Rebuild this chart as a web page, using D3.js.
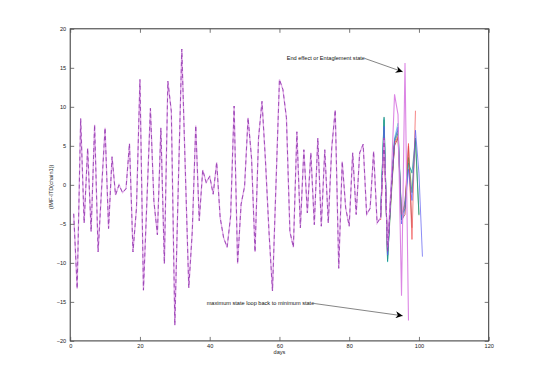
<!DOCTYPE html>
<html>
<head>
<meta charset="utf-8">
<script src="https://cdn.jsdelivr.net/npm/d3@7"></script>
<style>
  body { margin: 0; background: #fff; }
  text { font-family: "Liberation Sans", Arial, sans-serif; }
</style>
</head>
<body>
<div id="chart"></div>
<script>
// shared part of every series, days 1..89
var baseVals = [-3.7, -13.3, 8.5, -4.9, 4.7, -6.0, 7.7, -8.6, -0.5, 7.3,
  -5.6, 3.6, -1.3, 0.0, -1.0, -0.5, 5.3, -8.6, -3.0, 13.5,
  -13.5, -2.0, 9.8, -2.1, -6.4, 7.3, -10.1, 13.3, 9.4, -18.0,
  0.0, 17.4, 2.0, -13.2, -6.0, 7.6, -4.6, 1.9, 0.3, 1.1,
  -1.2, 2.9, -4.2, -6.8, -8.0, -4.0, 10.1, -10.1, -2.5, -0.2,
  8.6, 3.4, -8.6, 6.0, 10.7, 3.0, -6.0, -13.6, 0.0, 13.5,
  12.2, 8.6, -6.0, -8.0, 6.8, -5.5, 4.5, -3.6, 4.1, -5.1,
  6.0, -5.3, 4.5, -4.9, 4.8, 9.6, -10.7, 3.0, -3.0, -5.3,
  4.1, -3.8, 4.1, 5.2, -3.8, -3.0, 4.3, -4.9, -4.2];

// tails from day 89 on, where the runs split apart
var tailStart = 89;
var tealTail    = [-4.2, 8.7, -9.8, -1.0, 5.8, 7.0, -4.5, -2.0, 2.8, 1.5, 6.0, -3.8];
var greenTail   = [-4.2, 8.3, -9.5, -2.0, 5.5, 6.6, -4.0, -3.0, 3.5, -1.0, 5.7, -3.9];
var redTail     = [-4.5, 6.0, -8.5, -1.5, 5.3, 6.2, -3.8, -2.5, 5.3, -7.0, 9.5];
var blueTail    = [-4.2, 7.5, -9.0, -1.0, 5.6, 7.4, -5.0, -3.0, 2.0, -2.0, 7.0, 1.5, -9.2];
var cyanTail    = [-4.2, 8.5, -9.9, -0.5, 6.0, 7.9, -4.2, -2.5, 2.5, 1.7];
var darkredTail = [-4.2, 7.0, -9.0, -1.0, 5.0, 6.0, -4.5, -3.8, 5.0, -5.5];
var pinkTail    = [-4.2, 6.0, -8.0, 0.0, 11.6, 9.0, -14.2, 15.6, -17.4];
var purpleTail  = [-4.2, 6.0, -8.5, -1.0, 5.6];

var xTicks = [0, 20, 40, 60, 80, 100, 120];
var yTicks = [-20, -15, -10, -5, 0, 5, 10, 15, 20];

var margin = {top: 28.8, right: 51.3, bottom: 42.1, left: 70.2},
    width = 540 - margin.left - margin.right,
    height = 383 - margin.top - margin.bottom;

var x = d3.scaleLinear().domain([0, 120]).range([0, width]);
var y = d3.scaleLinear().domain([-20, 20]).range([height, 0]);

var svg = d3.select("#chart").append("svg")
    .attr("width", 540)
    .attr("height", 383)
  .append("g")
    .attr("transform", "translate(" + margin.left + "," + margin.top + ")");

function toPts(vals, start) {
  return vals.map(function(v, i) { return {d: start + i, v: v}; });
}

var line = d3.line()
    .x(function(p) { return x(p.d); })
    .y(function(p) { return y(p.v); });

var basePts = toPts(baseVals, 1);

// tails first, then the long pink and purple runs on top
var tails = [
  {vals: darkredTail, color: "#a52a2a"},
  {vals: greenTail, color: "#3a9a3a"},
  {vals: cyanTail, color: "#40d0d0"},
  {vals: tealTail, color: "#1f8f86"},
  {vals: redTail, color: "#f05050"},
  {vals: blueTail, color: "#5a5af0"}
];

tails.forEach(function(t) {
  svg.append("path")
      .datum(basePts.slice(-1).concat(toPts(t.vals, tailStart)))
      .attr("fill", "none")
      .attr("stroke", t.color)
      .attr("stroke-width", 0.7)
      .attr("d", line);
});

// light magenta run, whole length
svg.append("path")
    .datum(basePts)
    .attr("fill", "none")
    .attr("stroke", "#e2aee9")
    .attr("stroke-width", 1.3)
    .attr("d", line);

// its end spikes show stronger
svg.append("path")
    .datum(toPts(pinkTail, tailStart))
    .attr("fill", "none")
    .attr("stroke", "#dc86e4")
    .attr("stroke-width", 1.1)
    .attr("d", line);

// dashed purple run over it
svg.append("path")
    .datum(basePts.concat(toPts(purpleTail, tailStart).slice(1)))
    .attr("fill", "none")
    .attr("stroke", "#9640b2")
    .attr("stroke-width", 0.9)
    .attr("stroke-dasharray", "4,3")
    .attr("d", line);

// axes, matlab style: box with inward ticks
svg.append("rect")
    .attr("width", width)
    .attr("height", height)
    .attr("fill", "none")
    .attr("stroke", "#333")
    .attr("stroke-width", 1);

var xAxis = d3.axisBottom(x).tickValues(xTicks).tickSizeInner(-4).tickSizeOuter(0).tickPadding(3);
var xTop = d3.axisTop(x).tickValues(xTicks).tickSizeInner(-4).tickSizeOuter(0).tickFormat("");
var yAxis = d3.axisLeft(y).tickValues(yTicks).tickSizeInner(-4).tickSizeOuter(0).tickPadding(4);
var yRight = d3.axisRight(y).tickValues(yTicks).tickSizeInner(-4).tickSizeOuter(0).tickFormat("");

function styleAxis(g) {
  g.select(".domain").remove();
  g.selectAll("line").attr("stroke", "#555").attr("stroke-width", 0.8);
  g.selectAll("text").attr("font-size", "5.6px").attr("fill", "#222")
    .style("font-family", "Liberation Sans, Arial, sans-serif");
}

svg.append("g").attr("transform", "translate(0," + height + ")").call(xAxis).call(styleAxis);
svg.append("g").call(xTop).call(styleAxis);
svg.append("g").call(yAxis).call(styleAxis);
svg.append("g").attr("transform", "translate(" + width + ",0)").call(yRight).call(styleAxis);

svg.append("text")
    .attr("x", width / 2)
    .attr("y", height + 13)
    .attr("text-anchor", "middle")
    .attr("font-size", "5.6px")
    .attr("fill", "#222")
    .text("days");

svg.append("text")
    .attr("transform", "translate(-17," + (height / 2 + 2) + ") rotate(-90)")
    .attr("text-anchor", "middle")
    .attr("font-size", "5.6px")
    .attr("fill", "#222")
    .text("(IMF-ITD(chain1))");

// annotations with arrows
svg.append("defs").append("marker")
    .attr("id", "arr")
    .attr("viewBox", "0 0 10 10")
    .attr("refX", 10).attr("refY", 5)
    .attr("markerWidth", 7).attr("markerHeight", 7)
    .attr("markerUnits", "userSpaceOnUse")
    .attr("orient", "auto")
  .append("path")
    .attr("d", "M0,0 L10,5 L0,10 L3,5 z")
    .attr("fill", "#000");

var notes = [
  {text: "End effect or Entaglement state", tx: 216.5, ty: 31.5, ex: 332.5, ey: 43},
  {text: "maximum state loop back to minimum state", tx: 136.5, ty: 276.5, ex: 332.5, ey: 287}
];

notes.forEach(function(n) {
  var t = svg.append("text")
      .attr("x", n.tx)
      .attr("y", n.ty)
      .attr("font-size", "5.6px")
      .attr("fill", "#111")
      .text(n.text);
  var w = t.node().getComputedTextLength();
  svg.append("line")
      .attr("x1", n.tx + w).attr("y1", n.ty - 1.8)
      .attr("x2", n.ex).attr("y2", n.ey)
      .attr("stroke", "#333")
      .attr("stroke-width", 0.6)
      .attr("marker-end", "url(#arr)");
});
</script>
</body>
</html>
